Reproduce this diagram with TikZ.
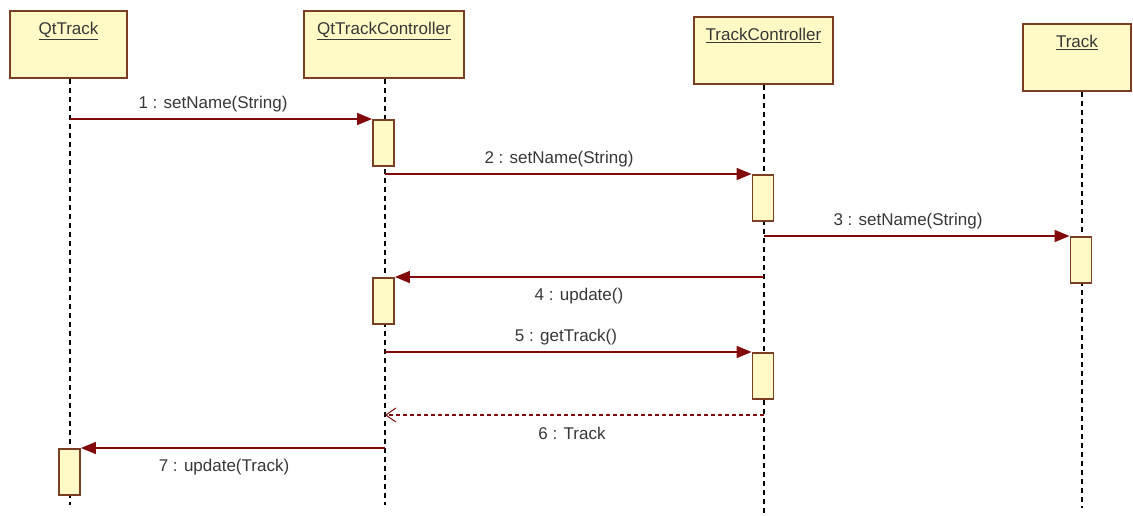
\documentclass[tikz,border=0pt]{standalone}
\usepackage{fontspec}
\setmainfont{Liberation Sans}
\usetikzlibrary{arrows.meta}
\definecolor{boxfill}{RGB}{255,249,198}
\definecolor{boxdraw}{RGB}{122,62,36}
\definecolor{msgcol}{RGB}{130,10,10}
\definecolor{txtcol}{RGB}{55,55,55}
\tikzset{
  x=1pt, y=-1pt,
  obj/.style={draw=boxdraw, fill=boxfill, line width=1.8pt, anchor=north,
    inner xsep=0pt, inner ysep=0pt, text height=24pt, text depth=43pt,
    font=\fontsize{17}{20}\selectfont, text=txtcol},
  act/.style={draw=boxdraw, fill=boxfill, line width=1.8pt, anchor=north,
    minimum width=21pt, minimum height=46pt, inner sep=0pt},
  life/.style={line width=1.3pt, dash pattern=on 5pt off 4pt, black},
  msg/.style={draw=msgcol, line width=1.6pt, -{Triangle[length=15pt,width=12pt]}},
  ret/.style={draw=msgcol, line width=1.3pt, dash pattern=on 4pt off 3pt,
    -{Straight Barb[length=10pt,width=14pt,line width=1pt]}},
  lbl/.style={font=\fontsize{17}{20}\selectfont, text=txtcol, inner sep=0pt}
}
\begin{document}
\begin{tikzpicture}
\useasboundingbox (0,0) rectangle (1133,516);
% objects
\node[obj, minimum width=117pt, minimum height=67pt] (qt) at (68.5,10) {\underline{QtTrack}};
\node[obj, minimum width=160pt, minimum height=67pt] (qtc) at (384,10) {\underline{QtTrackController}};
\node[obj, minimum width=139pt, minimum height=67pt] (tc) at (763.5,16) {\underline{TrackController}};
\node[obj, minimum width=108pt, minimum height=67pt] (tr) at (1077,23) {\underline{Track}};
% lifeline ends
\coordinate (qtE) at (70,505);
\coordinate (qtcE) at (385,505);
\coordinate (tcE) at (764,515);
\coordinate (trE) at (1082,508);
\draw[life] (qt.south -| qtE) -- (qtE);
\draw[life] (qtc.south -| qtcE) -- (qtcE);
\draw[life] (tc.south -| tcE) -- (tcE);
\draw[life] (tr.south -| trE) -- (trE);
% activations
\node[act] (a1) at (383.5,119) {};
\node[act] (a2) at (763,174) {};
\node[act] (a3) at (1081,236) {};
\node[act] (a4) at (383.5,277) {};
\node[act] (a5) at (763,352) {};
\node[act] (a7) at (69.5,448) {};
% message start points
\coordinate (m1) at (70,119);
\coordinate (m2) at (385,174);
\coordinate (m3) at (764,236);
\coordinate (m4) at (764,277);
\coordinate (m5) at (385,352);
\coordinate (m6) at (764,415);
\coordinate (m6e) at (385,415);
\coordinate (m7) at (385,448);
\draw[msg] (m1) -- (a1.north west);
\draw[msg] (m2) -- (a2.north west);
\draw[msg] (m3) -- (a3.north west);
\draw[msg] (m4) -- (a4.north east);
\draw[msg] (m5) -- (a5.north west);
\draw[ret] (m6) -- (m6e);
\draw[msg] (m7) -- (a7.north east);
% labels
\node[lbl] (l1) at (213,104) {1 : setName(String)};
\node[lbl] (l2) at (559,159) {2 : setName(String)};
\node[lbl] (l3) at (908,221) {3 : setName(String)};
\node[lbl] (l4) at (579,296) {4 : update()};
\node[lbl] (l5) at (566,337) {5 : getTrack()};
\node[lbl] (l6) at (572,433) {6 : Track};
\node[lbl] (l7) at (224,467) {7 : update(Track)};
\end{tikzpicture}
\end{document}
